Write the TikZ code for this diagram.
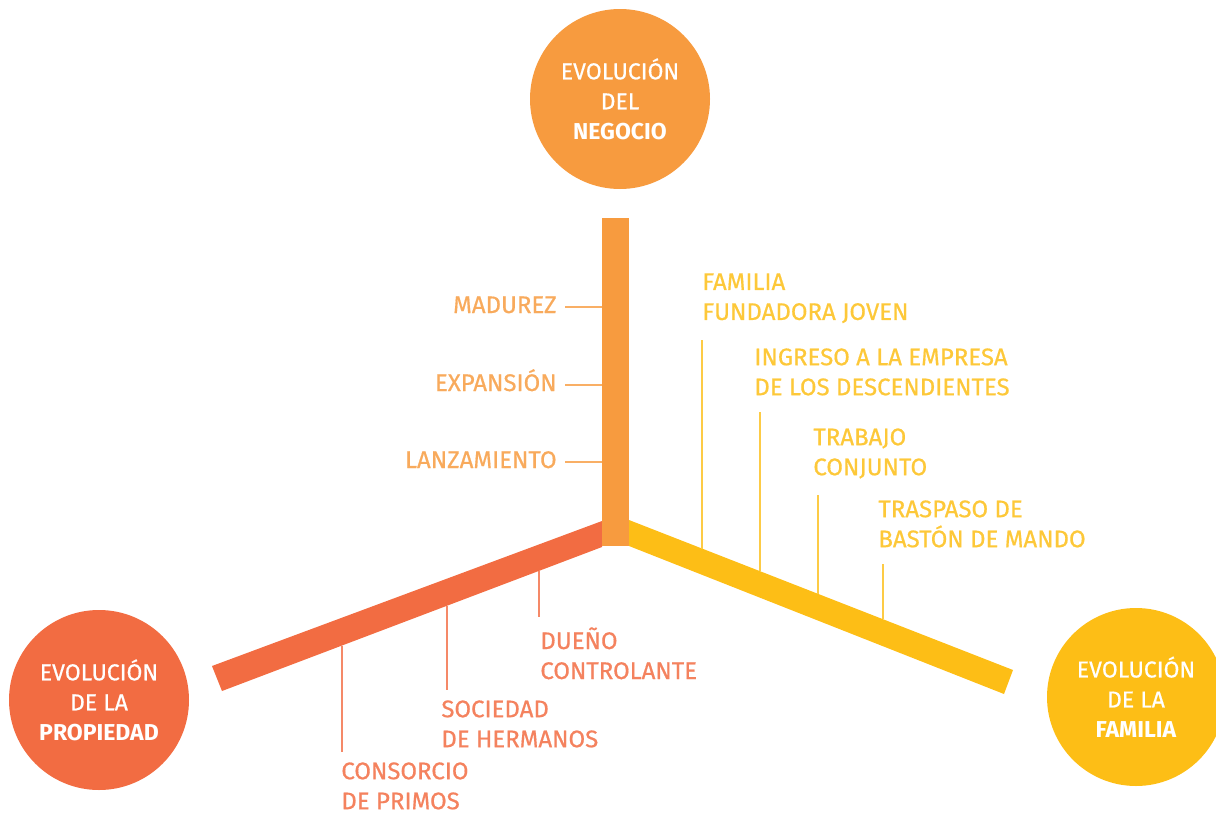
\documentclass[tikz,border=0pt]{standalone}
\usepackage{fontspec}
\setmainfont{Fira Sans}[UprightFeatures={FakeBold=0.6}]
\usepackage{xcolor}
\usetikzlibrary{positioning}

\definecolor{negocio}{HTML}{F79B3F}
\definecolor{propiedad}{HTML}{F26C42}
\definecolor{familia}{HTML}{FDBE16}

\tikzset{
  evo/.style={circle, fill=#1, text=white, minimum size=90pt, inner sep=0pt,
    align=center, font=\fontsize{11.5}{15}\selectfont},
  lbl/.style={text=#1!85, inner sep=0pt, align=left,
    font=\fontsize{12}{15}\selectfont},
  vlbl/.style={lbl=#1, anchor=east, text height=8pt, text depth=2pt},
  tickline/.style={draw=#1!80, line width=1pt}
}

\begin{document}
\begin{tikzpicture}[x=0.5pt, y=-0.5pt]
\useasboundingbox (0,0) rectangle (1216,814);

% bars
\coordinate (vt) at (602,218);
\coordinate (vb) at (629,546);
\fill [propiedad] (602,521) -- (602,547) -- (222,691) -- (212,666) -- cycle;
\fill [familia] (629,520) -- (1013,670) -- (1004,694) -- (629,546) -- cycle;
\fill [negocio] (vt) rectangle (vb);

\path (602,547) -- (222,691)
  coordinate [pos=.166] (due_foot)
  coordinate [pos=.407] (soc_foot)
  coordinate [pos=.685] (con_foot);
\path (629,520) -- (1013,670)
  coordinate [pos=.190] (fam_foot)
  coordinate [pos=.341] (ing_foot)
  coordinate [pos=.492] (tra_foot)
  coordinate [pos=.661] (tras_foot);

% circles
\node (neg) [evo=negocio] at (620,99) {EVOLUCIÓN\\DEL\\\textbf{NEGOCIO}};
\node (prop) [evo=propiedad] at (99,700) {EVOLUCIÓN\\DE LA\\\textbf{PROPIEDAD}};
\node (fami) [evo=familia, minimum size=89pt] at (1136,697) {EVOLUCIÓN\\DE LA\\\textbf{FAMILIA}};

% negocio
\node (mad) [vlbl=negocio] at (557,307) {MADUREZ};
\node (exp) [vlbl=negocio] at (557,385) {EXPANSIÓN};
\node (lan) [vlbl=negocio] at (557,462) {LANZAMIENTO};

\draw [tickline=negocio, shorten <=4pt] (mad.east) -- (mad.east -| vt);
\draw [tickline=negocio, shorten <=4pt] (exp.east) -- (exp.east -| vt);
\draw [tickline=negocio, shorten <=4pt] (lan.east) -- (lan.east -| vt);

% familia
\node (fam) [lbl=familia, anchor=north west] at (702,273) {FAMILIA\\FUNDADORA JOVEN};
\node (ing) [lbl=familia, anchor=north west] at (754,348) {INGRESO A LA EMPRESA\\DE LOS DESCENDIENTES};
\node (tra) [lbl=familia, anchor=north west] at (813,428) {TRABAJO\\CONJUNTO};
\node (tras) [lbl=familia, anchor=north west] at (878,500) {TRASPASO DE\\BASTÓN DE MANDO};

\draw [tickline=familia, shorten >=8pt] (fam_foot) -- (fam_foot |- fam.south);
\draw [tickline=familia, shorten >=8pt] (ing_foot) -- (ing_foot |- ing.south);
\draw [tickline=familia, shorten >=8pt] (tra_foot) -- (tra_foot |- tra.south);
\draw [tickline=familia, shorten >=8pt] (tras_foot) -- (tras_foot |- tras.south);

% propiedad
\node (due) [lbl=propiedad, anchor=north west] at (540,627) {DUEÑO\\CONTROLANTE};
\node (soc) [lbl=propiedad, anchor=north west] at (441,700) {SOCIEDAD\\DE HERMANOS};
\node (con) [lbl=propiedad, anchor=north west] at (341,762) {CONSORCIO\\DE PRIMOS};

\draw [tickline=propiedad, shorten >=5pt] (due_foot) -- (due_foot |- due.north);
\draw [tickline=propiedad, shorten >=5pt] (soc_foot) -- (soc_foot |- soc.north);
\draw [tickline=propiedad, shorten >=5pt] (con_foot) -- (con_foot |- con.north);
\end{tikzpicture}
\end{document}
